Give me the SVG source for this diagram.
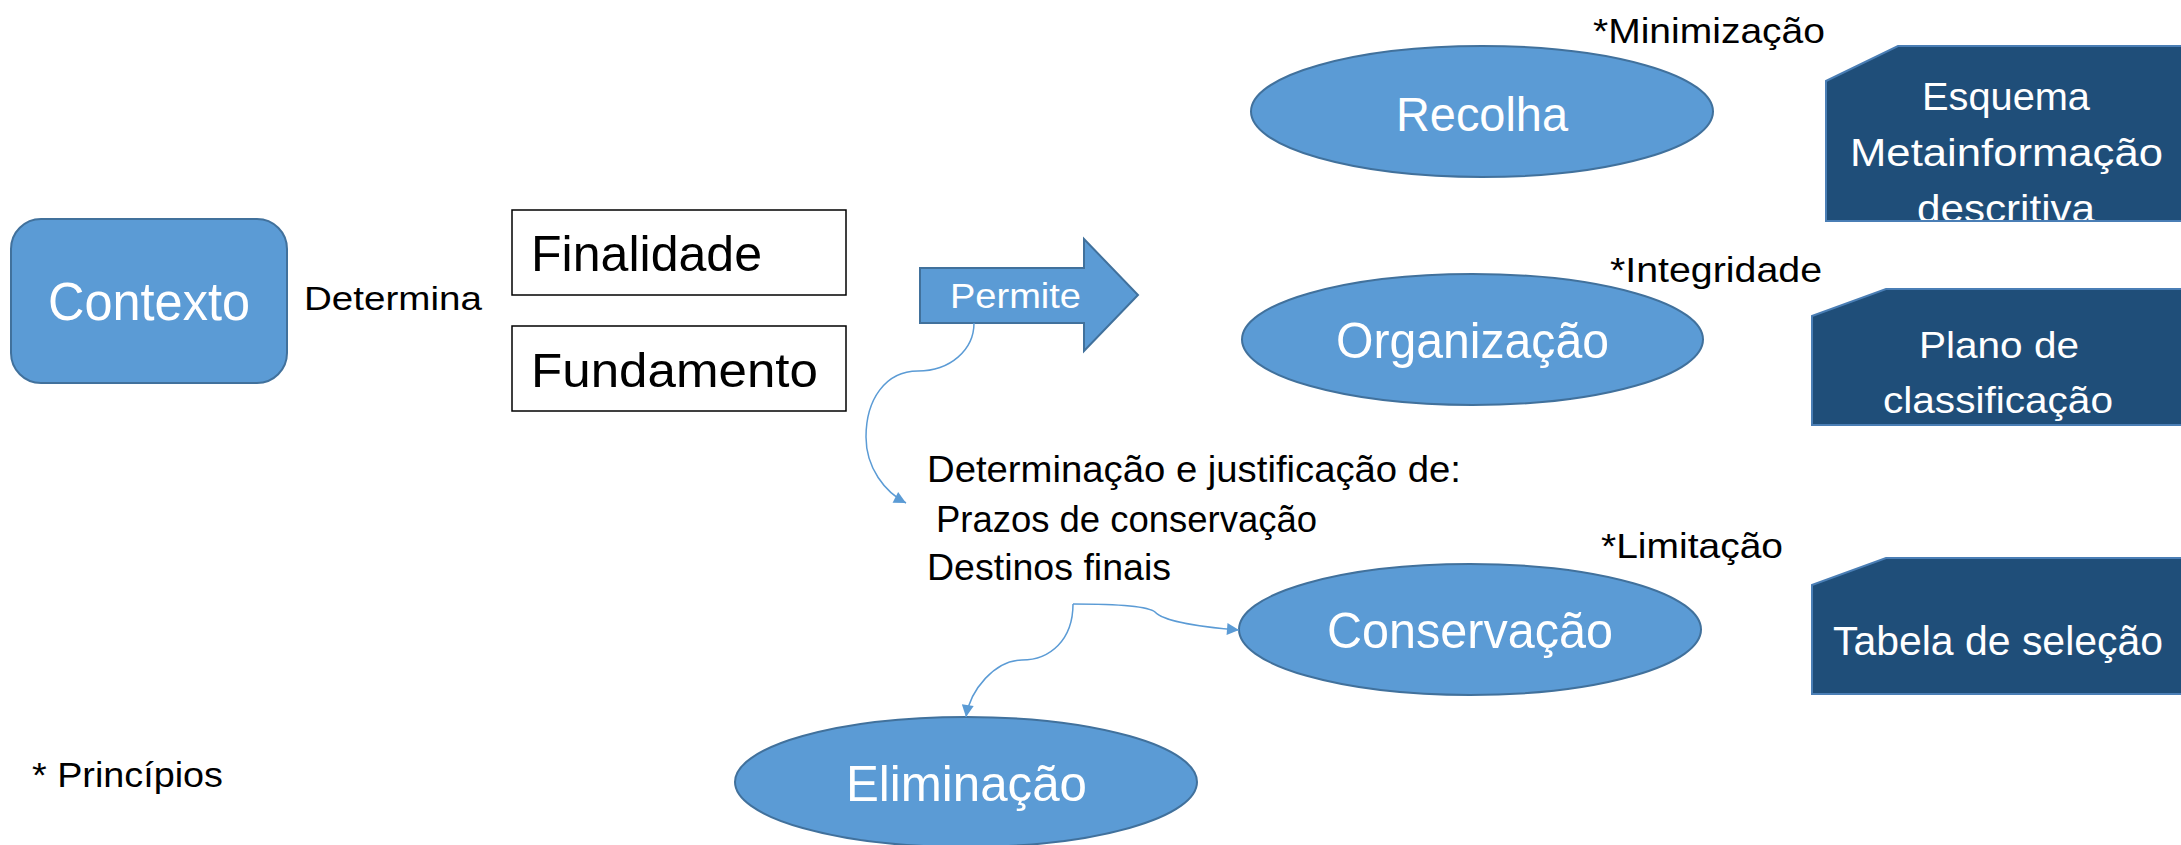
<svg xmlns="http://www.w3.org/2000/svg" width="2181" height="845" viewBox="0 0 2181 845">
<style>
text{font-family:'Liberation Sans',Arial,sans-serif;}
.blue{fill:#5B9BD5;stroke:#41719C;stroke-width:2;}
.dark{fill:#1F4E79;stroke:none;}
.darkline{fill:none;stroke:#4A7EB5;stroke-width:2;}
.box{fill:#FFFFFF;stroke:#000000;stroke-width:1.5;}
.w{fill:#FFFFFF;}
.k{fill:#000000;}
.conn{fill:none;stroke:#5B9BD5;stroke-width:1.5;}
</style>
<defs>
<marker id="ah" viewBox="0 0 10 10" refX="10" refY="5" markerUnits="userSpaceOnUse" markerWidth="14" markerHeight="12" orient="auto">
<path d="M0,0 L10,5 L0,10 Z" fill="#5B9BD5"/>
</marker>
</defs>
<rect width="2181" height="845" fill="#FFFFFF"/>

<g id="contexto">
<rect class="blue" x="11" y="219" width="276" height="164" rx="30" ry="30"/>
<text class="w" x="48" y="320" font-size="53" textLength="202" lengthAdjust="spacingAndGlyphs">Contexto</text>
</g>

<g id="determina">
<text class="k" x="304" y="310" font-size="34" textLength="178" lengthAdjust="spacingAndGlyphs">Determina</text>
</g>

<g id="finalidade">
<rect class="box" x="512" y="210" width="334" height="85"/>
<text class="k" x="531" y="271" font-size="50" textLength="231" lengthAdjust="spacingAndGlyphs">Finalidade</text>
</g>

<g id="fundamento">
<rect class="box" x="512" y="326" width="334" height="85"/>
<text class="k" x="531" y="387" font-size="49" textLength="287" lengthAdjust="spacingAndGlyphs">Fundamento</text>
</g>

<g id="permite">
<polygon class="blue" points="920,268 1084,268 1084,239 1138,295 1084,351 1084,323 920,323"/>
<text class="w" x="950" y="308" font-size="35" textLength="131" lengthAdjust="spacingAndGlyphs">Permite</text>
</g>

<g id="determinacao">
<text class="k" x="927" y="482" font-size="36" textLength="534" lengthAdjust="spacingAndGlyphs">Determinação e justificação de:</text>
<text class="k" x="936" y="532" font-size="36" textLength="381" lengthAdjust="spacingAndGlyphs">Prazos de conservação</text>
<text class="k" x="927" y="580" font-size="36" textLength="244" lengthAdjust="spacingAndGlyphs">Destinos finais</text>
</g>

<g id="recolha">
<ellipse class="blue" cx="1482" cy="111.5" rx="231" ry="65.5"/>
<text class="w" x="1396" y="131" font-size="49" textLength="172" lengthAdjust="spacingAndGlyphs">Recolha</text>
</g>
<g id="minimizacao">
<text class="k" x="1593" y="43" font-size="35" textLength="232" lengthAdjust="spacingAndGlyphs">*Minimização</text>
</g>

<g id="organizacao">
<ellipse class="blue" cx="1472.5" cy="339.5" rx="230.5" ry="65.5"/>
<text class="w" x="1336" y="358" font-size="50" textLength="273" lengthAdjust="spacingAndGlyphs">Organização</text>
</g>
<g id="integridade">
<text class="k" x="1610" y="282" font-size="35" textLength="212" lengthAdjust="spacingAndGlyphs">*Integridade</text>
</g>

<g id="conservacao">
<ellipse class="blue" cx="1470" cy="629.5" rx="231" ry="65.5"/>
<text class="w" x="1327" y="648" font-size="50" textLength="286" lengthAdjust="spacingAndGlyphs">Conservação</text>
</g>
<g id="limitacao">
<text class="k" x="1601" y="558" font-size="35" textLength="182" lengthAdjust="spacingAndGlyphs">*Limitação</text>
</g>

<g id="eliminacao">
<ellipse class="blue" cx="966" cy="782" rx="231" ry="65"/>
<text class="w" x="846" y="801" font-size="50" textLength="241" lengthAdjust="spacingAndGlyphs">Eliminação</text>
</g>

<g id="principios">
<text class="k" x="32" y="787" font-size="35" textLength="191" lengthAdjust="spacingAndGlyphs">* Princípios</text>
</g>

<g id="esquema">
<polygon class="dark" points="1826,81 1898,46 2190,46 2190,221 1826,221"/>
<text class="w" x="1922" y="110" font-size="38" textLength="168" lengthAdjust="spacingAndGlyphs">Esquema</text>
<text class="w" x="1850" y="166" font-size="38" textLength="313" lengthAdjust="spacingAndGlyphs">Metainformação</text>
<text class="w" x="1917" y="222" font-size="38" textLength="178" lengthAdjust="spacingAndGlyphs">descritiva</text>
<polygon class="darkline" points="1826,81 1898,46 2190,46 2190,221 1826,221"/>
</g>

<g id="plano">
<polygon class="dark" points="1812,316 1886,289 2190,289 2190,425 1812,425"/>
<text class="w" x="1919" y="358" font-size="37" textLength="160" lengthAdjust="spacingAndGlyphs">Plano de</text>
<text class="w" x="1883" y="413" font-size="37" textLength="230" lengthAdjust="spacingAndGlyphs">classificação</text>
<polygon class="darkline" points="1812,316 1886,289 2190,289 2190,425 1812,425"/>
</g>

<g id="tabela">
<polygon class="dark" points="1812,585 1886,558 2190,558 2190,694 1812,694"/>
<text class="w" x="1833" y="655" font-size="40" textLength="330" lengthAdjust="spacingAndGlyphs">Tabela de seleção</text>
<polygon class="darkline" points="1812,585 1886,558 2190,558 2190,694 1812,694"/>
</g>

<g id="connectors">
<path class="conn" marker-end="url(#ah)" d="M974,323 C974,350 950,371 918,371 C885,371 866,400 866,437 C866,468 885,492 906,503"/>
<path class="conn" marker-end="url(#ah)" d="M1073,604 C1110,604 1148,606 1155,612 C1163,621 1200,627 1239,630"/>
<path class="conn" marker-end="url(#ah)" d="M1073,604 C1073,640 1050,660 1022,660 C995,660 970,690 966,717"/>
</g>
</svg>
